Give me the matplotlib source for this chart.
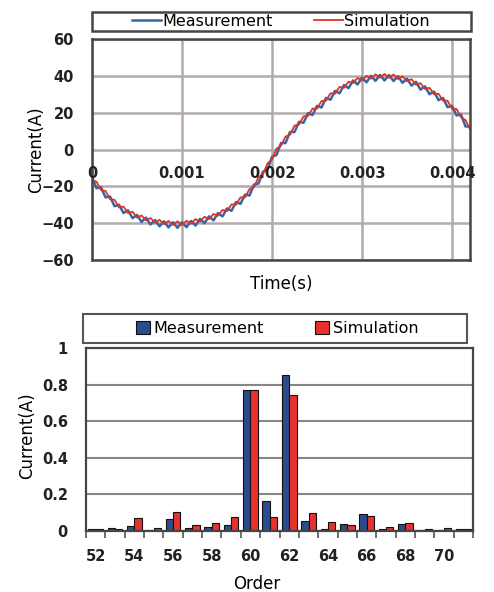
import matplotlib
matplotlib.use('Agg')
import matplotlib.pyplot as plt
from matplotlib.patches import Rectangle

# --- waveform (ms / A) ---
time_ms = [0.00, 0.05, 0.10, 0.15, 0.20, 0.25, 0.30, 0.35, 0.40, 0.45,
           0.50, 0.55, 0.60, 0.65, 0.70, 0.75, 0.80, 0.85, 0.90, 0.95,
           1.00, 1.05, 1.10, 1.15, 1.20, 1.25, 1.30, 1.35, 1.40, 1.45,
           1.50, 1.55, 1.60, 1.65, 1.70, 1.75, 1.80, 1.85, 1.90, 1.95,
           2.00, 2.05, 2.10, 2.15, 2.20, 2.25, 2.30, 2.35, 2.40, 2.45,
           2.50, 2.55, 2.60, 2.65, 2.70, 2.75, 2.80, 2.85, 2.90, 2.95,
           3.00, 3.05, 3.10, 3.15, 3.20, 3.25, 3.30, 3.35, 3.40, 3.45,
           3.50, 3.55, 3.60, 3.65, 3.70, 3.75, 3.80, 3.85, 3.90, 3.95,
           4.00, 4.05, 4.10, 4.15, 4.20]
sim_current = [-16.5, -17.5, -22.0, -22.5, -27.0, -27.3, -31.5, -31.0, -34.5, -33.8,
               -37.0, -35.8, -38.5, -37.2, -39.8, -38.2, -40.5, -38.8, -41.0, -39.0,
               -41.0, -38.7, -40.3, -37.8, -39.2, -36.5, -37.8, -35.0, -36.0, -32.8,
               -33.5, -29.8, -30.0, -26.0, -26.0, -21.5, -20.5, -15.0, -13.5, -7.5,
               -5.5, 0.5, 2.0, 7.0, 8.0, 13.0, 13.5, 18.0, 18.2, 22.2,
               22.2, 26.3, 26.5, 30.5, 30.3, 34.0, 33.5, 36.8, 36.0, 38.8,
               37.5, 40.0, 38.5, 40.8, 39.0, 41.0, 38.9, 40.7, 38.3, 39.7,
               37.0, 38.2, 35.2, 36.0, 32.8, 33.5, 30.0, 30.3, 26.5, 26.5,
               22.2, 22.0, 17.5, 16.0, 11.0]
meas_current = [-15.0, -21.0, -20.5, -26.0, -25.5, -30.8, -30.0, -34.5, -33.0, -37.3,
                -35.5, -39.3, -37.0, -40.7, -38.3, -41.7, -39.0, -42.3, -39.5, -42.5,
                -39.5, -42.2, -38.8, -41.3, -37.7, -40.0, -36.3, -38.5, -34.5, -36.3,
                -32.0, -33.3, -28.5, -29.5, -24.5, -25.0, -19.0, -18.5, -12.0, -11.0,
                -4.0, -3.0, 3.5, 3.5, 9.5, 9.5, 15.0, 14.5, 19.7, 18.7,
                23.7, 22.8, 28.0, 27.0, 31.8, 30.5, 35.0, 33.3, 37.5, 35.3,
                39.0, 36.5, 40.0, 37.3, 40.5, 37.5, 40.4, 37.2, 39.8, 36.2,
                38.5, 34.7, 36.7, 32.5, 34.3, 30.0, 31.5, 26.8, 28.0, 23.0,
                23.7, 18.5, 19.0, 12.5, 12.5]

# --- harmonic spectrum ---
orders = [52, 53, 54, 55, 56, 57, 58, 59, 60, 61,
          62, 63, 64, 65, 66, 67, 68, 69, 70, 71]
meas_harm = [0.010, 0.017, 0.028, 0.008, 0.067, 0.017, 0.024, 0.031, 0.769, 0.163,
             0.855, 0.057, 0.011, 0.038, 0.095, 0.013, 0.038, 0.007, 0.004, 0.013]
sim_harm = [0.013, 0.013, 0.072, 0.017, 0.105, 0.031, 0.044, 0.078, 0.770, 0.077,
            0.742, 0.099, 0.051, 0.031, 0.084, 0.024, 0.044, 0.011, 0.016, 0.013]

time_ticks = [0, 0.001, 0.002, 0.003, 0.004]
time_labels = ['0', '0.001', '0.002', '0.003', '0.004']
order_labels = [str(o) if o % 2 == 0 else '' for o in orders]

W, H = 494, 592
fig = plt.figure(figsize=(W / 100, H / 100), dpi=100)
plt.rcParams['font.family'] = ['DejaVu Sans']

grid_col = '#b3aaaa'
frame_col = '#4a4444'
blue_line = '#3566a8'
red_line = '#e2321f'
blue_bar = '#2b4c8c'
red_bar = '#e8302c'


def px_axes(left, top, right, bottom):
    return fig.add_axes([left / W, 1 - bottom / H, (right - left) / W, (bottom - top) / H])


# ---------------- top: waveform ----------------
ax1 = px_axes(92, 39, 470, 260)
t_s = [t / 1000 for t in time_ms]
l1, = ax1.plot(t_s, meas_current, color=blue_line, lw=1.8, label='Measurement')
l2, = ax1.plot(t_s, sim_current, color=red_line, lw=1.3, label='Simulation')
ax1.set_xlim(0, 0.0042)
ax1.set_ylim(-60, 60)
ax1.set_yticks([-60, -40, -20, 0, 20, 40, 60])
ax1.set_xticks(time_ticks)
ax1.set_xticklabels([])
ax1.grid(True, color=grid_col, lw=1.8)
ax1.set_axisbelow(True)
ax1.tick_params(length=0, pad=13)
for lab in ax1.get_yticklabels():
    lab.set_fontsize(10.5)
    lab.set_fontweight('bold')
    lab.set_color('#222222')
for s in ax1.spines.values():
    s.set_color(frame_col)
    s.set_linewidth(1.8)
for x, lab in zip(time_ticks, time_labels):
    ax1.text(x, -13, lab, ha='center', va='center', fontsize=10.5,
             fontweight='bold', color='#222222')
ax1.set_ylabel('Current(A)', fontsize=12)
ax1.yaxis.set_label_coords(-0.125, 0.5)
ax1.set_xlabel('Time(s)', fontsize=12)
ax1.xaxis.set_label_coords(0.5, -0.07)

fig.patches.append(Rectangle((92 / W, 1 - 31 / H), 379 / W, 19 / H,
                             transform=fig.transFigure, fill=False,
                             edgecolor=frame_col, lw=1.8))
fig.legend(handles=[l1, l2], loc='center', bbox_to_anchor=(281 / W, 1 - 21.5 / H),
           ncol=2, frameon=False, fontsize=11.5, handlelength=1.8,
           handletextpad=0.1, columnspacing=2.6, borderpad=0)

# ---------------- bottom: harmonic bars ----------------
ax2 = px_axes(86, 348, 473, 531)
bw = 0.38
b1 = ax2.bar([o - bw / 2 for o in orders], meas_harm, width=bw, color=blue_bar,
             edgecolor='#111111', lw=0.8, label='Measurement')
b2 = ax2.bar([o + bw / 2 for o in orders], sim_harm, width=bw, color=red_bar,
             edgecolor='#111111', lw=0.8, label='Simulation')
ax2.set_xlim(orders[0] - 0.5, orders[-1] + 0.5)
ax2.set_ylim(0, 1)
ax2.set_yticks([0, 0.2, 0.4, 0.6, 0.8, 1])
ax2.set_yticklabels(['0', '0.2', '0.4', '0.6', '0.8', '1'])
ax2.set_xticks(orders)
ax2.set_xticklabels(order_labels)
ax2.set_xticks([o - 0.5 for o in orders] + [orders[-1] + 0.5], minor=True)
ax2.tick_params(axis='x', which='major', length=0, pad=13)
ax2.tick_params(axis='x', which='minor', length=5, width=1.2, color='#555555')
ax2.tick_params(axis='y', length=0, pad=13)
for lab in ax2.get_xticklabels() + ax2.get_yticklabels():
    lab.set_fontsize(10.5)
    lab.set_fontweight('bold')
    lab.set_color('#222222')
ax2.yaxis.grid(True, color='#8a8484', lw=1.5)
ax2.set_axisbelow(True)
for s in ax2.spines.values():
    s.set_color(frame_col)
    s.set_linewidth(1.6)
ax2.set_ylabel('Current(A)', fontsize=12)
ax2.yaxis.set_label_coords(-0.13, 0.52)
ax2.set_xlabel('Order', fontsize=12)
ax2.xaxis.set_label_coords(0.44, -0.24)

fig.patches.append(Rectangle((83 / W, 1 - 343 / H), 384 / W, 29 / H,
                             transform=fig.transFigure, fill=False,
                             edgecolor='#5a5454', lw=1.5))
fig.legend(handles=[b1, b2], loc='center', bbox_to_anchor=(277 / W, 1 - 328.5 / H),
           ncol=2, frameon=False, fontsize=11.5, handlelength=0.9, handleheight=0.9,
           handletextpad=0.2, columnspacing=3.2, borderpad=0)

fig.savefig('out.png', dpi=100)
